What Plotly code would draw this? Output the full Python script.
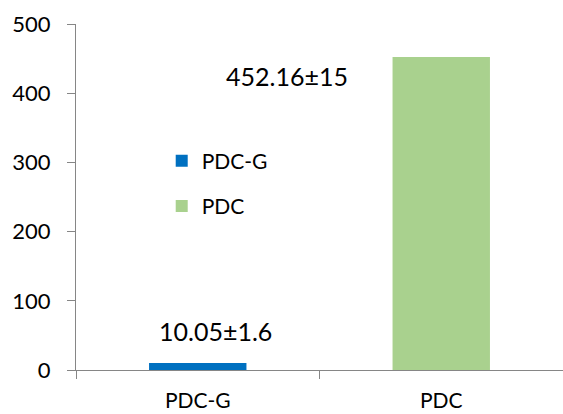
import plotly.graph_objects as go

# データ
categories = ["PDC-G", "PDC"]
values = [10.05, 452.16]
errors = [1.6, 15]
colors = ["#0070C0", "#A9D18E"]
y_ticks = [0, 100, 200, 300, 400, 500]

FONT = "Lato"

fig = go.Figure()

for cat, val, col in zip(categories, values, colors):
    fig.add_trace(go.Bar(
        x=[cat],
        y=[val],
        name=cat,
        marker=dict(color=col, line=dict(width=0)),
        width=0.4,
        legendgroup=cat,
    ))

# 平均値±SD ラベル
label_pos = [(0.287, 56), (0.433, 425)]
for (xp, yp), val, err in zip(label_pos, values, errors):
    fig.add_annotation(
        x=xp, y=yp, xref="paper", yref="y",
        xanchor="center", yanchor="middle",
        text=f"{val:g}±{err:g}",
        showarrow=False,
        font=dict(size=25, color="black", family=FONT),
    )

fig.update_layout(
    width=563,
    height=414,
    margin=dict(l=76, r=0, t=24, b=44),
    paper_bgcolor="white",
    plot_bgcolor="white",
    font=dict(family=FONT, color="black"),
    barmode="overlay",
    legend=dict(
        x=0.176, y=0.663, xanchor="left", yanchor="top",
        font=dict(size=21, family=FONT),
        bgcolor="rgba(0,0,0,0)",
        tracegroupgap=15,
        traceorder="grouped",
    ),
    xaxis=dict(
        type="category",
        range=[-0.5, 1.5],
        showline=True, linecolor="#868686", linewidth=1,
        ticks="outside", tickson="boundaries", ticklen=8, tickcolor="#868686",
        tickfont=dict(size=21, family=FONT),
        showgrid=False,
        ticklabelstandoff=12,
        automargin=False,
    ),
    yaxis=dict(
        range=[0, 500],
        tickvals=y_ticks,
        showline=True, linecolor="#868686", linewidth=1,
        ticks="outside", ticklen=8, tickcolor="#868686",
        tickfont=dict(size=22, family=FONT),
        showgrid=False, zeroline=False,
        ticklabelstandoff=12,
        automargin=False,
    ),
)

# ページ余白をなくして図をウィンドウ左上に合わせる
fig.write_html(
    "out.html",
    config={"displayModeBar": False},
    post_script="document.body.style.margin='0';",
)
